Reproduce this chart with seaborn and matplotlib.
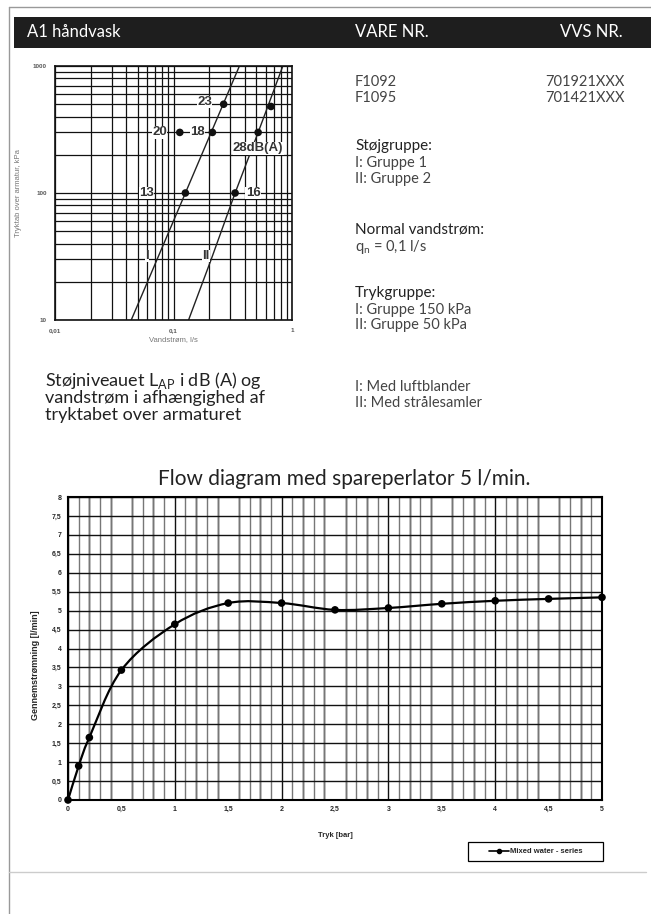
import numpy as np
import matplotlib
matplotlib.use("Agg")
import matplotlib.pyplot as plt
import seaborn as sns
from matplotlib.path import Path
from matplotlib.patches import PathPatch, Rectangle
from matplotlib.lines import Line2D
from matplotlib.ticker import FixedLocator, MultipleLocator, FuncFormatter, NullFormatter

# Top chart - pressure loss (kPa) against water flow (l/s) for group I and II
flow_I = [0.044, 0.126, 0.36]
kpa_I = [10, 100, 1000]
flow_II = [0.134, 0.208, 0.331, 0.518, 0.837]
kpa_II = [10, 30, 100, 300, 1000]

# Noise level points with dB(A) labels
dot_flow = [0.113, 0.126, 0.213, 0.265, 0.331, 0.518, 0.665]
dot_kpa = [300, 100, 300, 500, 100, 300, 480]
dot_labels = ["20", "13", "18", "23", "16", "28dB(A)", ""]

# Bottom chart - flow with spareperlator
pressure_bar = [0, 0.1, 0.2, 0.5, 1, 1.5, 2, 2.5, 3, 3.5, 4, 4.5, 5]
flow_lmin = [0, 0.9, 1.65, 3.43, 4.64, 5.2, 5.2, 5.02, 5.07, 5.18, 5.26, 5.31, 5.35]

sns.set_style("white")
plt.rcParams["font.family"] = ["Lato", "DejaVu Sans"]

W, H = 651, 914
fig = plt.figure(figsize=(W / 100, H / 100), dpi=100)


def fx(x):
    return x / W


def fy(y):
    return 1 - y / H


# page frame and header bar
fig.add_artist(Line2D([fx(9), fx(9)], [fy(7), 0], color="#999999", lw=1))
fig.add_artist(Line2D([fx(9), 1], [fy(7), fy(7)], color="#999999", lw=1))
fig.add_artist(Line2D([fx(9), fx(646)], [fy(872), fy(872)], color="#cccccc", lw=1))
fig.add_artist(Rectangle((fx(14), fy(48)), 1 - fx(14), (48 - 17) / H,
                         transform=fig.transFigure, color="#1e1e1e", lw=0))
fig.text(fx(27), fy(32), "A1 håndvask", color="white", fontsize=12, va="center")
fig.text(fx(355), fy(32), "VARE NR.", color="white", fontsize=12, va="center")
fig.text(fx(623), fy(32), "VVS NR.", color="white", fontsize=12, va="center", ha="right")

# right hand text block
dark = "#222222"
grey = "#444444"
fig.text(fx(355), fy(82), "F1092", color=grey, fontsize=10.5, va="center")
fig.text(fx(355), fy(98), "F1095", color=grey, fontsize=10.5, va="center")
fig.text(fx(625), fy(82), "701921XXX", color=grey, fontsize=10.5, va="center", ha="right")
fig.text(fx(625), fy(98), "701421XXX", color=grey, fontsize=10.5, va="center", ha="right")

blocks = [
    (146, "Støjgruppe:", ["I: Gruppe 1", "II: Gruppe 2"]),
    (230, "Normal vandstrøm:", ["q$_\\mathregular{n}$ = 0,1 l/s"]),
    (293, "Trykgruppe:", ["I: Gruppe 150 kPa", "II: Gruppe 50 kPa"]),
]
for y0, head, items in blocks:
    fig.text(fx(355), fy(y0), head, color=dark, fontsize=11, va="center")
    for i, item in enumerate(items):
        fig.text(fx(355), fy(y0 + 17 + 15.5 * i), item, color=grey, fontsize=10.5, va="center")
fig.text(fx(355), fy(387), "I: Med luftblander", color=grey, fontsize=10.5, va="center")
fig.text(fx(355), fy(403), "II: Med strålesamler", color=grey, fontsize=10.5, va="center")

# caption under the small chart
caption = ["Støjniveauet L$_\\mathregular{AP}$ i dB (A) og",
           "vandstrøm i afhængighed af",
           "tryktabet over armaturet"]
for i, line in enumerate(caption):
    fig.text(fx(45), fy(381 + 17 * i), line, color=dark, fontsize=13, va="center")

# ---------- top chart ----------
ax1 = fig.add_axes([fx(55), fy(320), (292 - 55) / W, (320 - 66) / H])
sns.lineplot(x=flow_I, y=kpa_I, ax=ax1, color="#222222", lw=1)
sns.lineplot(x=flow_II, y=kpa_II, ax=ax1, color="#222222", lw=1)
sns.scatterplot(x=dot_flow, y=dot_kpa, ax=ax1, color="#111111", s=30, edgecolor="none", zorder=5)
ax1.set_xscale("log")
ax1.set_yscale("log")
ax1.set_xlim(0.01, 1)
ax1.set_ylim(10, 1000)
ax1.xaxis.set_major_locator(FixedLocator([0.01, 0.1, 1]))
ax1.yaxis.set_major_locator(FixedLocator([10, 100, 1000]))
ax1.xaxis.set_minor_locator(FixedLocator([m * d for d in [0.01, 0.1] for m in range(2, 10)]))
ax1.yaxis.set_minor_locator(FixedLocator([m * d for d in [10, 100] for m in range(2, 10)]))
ax1.xaxis.set_minor_formatter(NullFormatter())
ax1.yaxis.set_minor_formatter(NullFormatter())
ax1.xaxis.set_major_formatter(FuncFormatter(lambda v, _: f"{v:g}".replace(".", ",")))
ax1.yaxis.set_major_formatter(FuncFormatter(lambda v, _: f"{v:g}"))
ax1.grid(which="both", color="#111111", lw=0.9)
ax1.tick_params(which="both", length=0, labelsize=4.5, labelcolor="#555555", pad=6)
for lab in ax1.get_xticklabels() + ax1.get_yticklabels():
    lab.set_fontweight("bold")
    lab.set_family("Liberation Sans")
for sp in ax1.spines.values():
    sp.set_color("#111111")
    sp.set_linewidth(1.2)
ax1.set_xlabel("Vandstrøm, l/s", fontsize=5.5, color="#777777", family="Liberation Sans", labelpad=2)
ax1.set_ylabel("Tryktab over armatur, kPa", fontsize=5.5, color="#777777", family="Liberation Sans", labelpad=8)

offsets = {"20": (-20, 0), "13": (-39, 0), "18": (-15, 0), "23": (-19, 2),
           "16": (18, 0), "28dB(A)": (0, -16), "": (0, 0)}
label_style = dict(ha="center", va="center", fontsize=9.5, fontweight="bold",
                   color="#333333", family="Liberation Sans",
                   bbox=dict(boxstyle="square,pad=0.02", fc="white", ec="none"))
for xv, yv, lab in zip(dot_flow, dot_kpa, dot_labels):
    if lab:
        dx, dy = offsets[lab]
        ax1.annotate(lab, (xv, yv), xytext=(dx * 0.72, dy * 0.72), textcoords="offset points",
                     **label_style)
ax1.text(0.06, 32, "I", **label_style)
ax1.text(0.187, 32, "II", **label_style)

# ---------- bottom chart ----------
fig.text(fx(344), fy(479), "Flow diagram med spareperlator 5 l/min.", color=dark,
         fontsize=15, ha="center", va="center")

ax2 = fig.add_axes([fx(68), fy(800), (602 - 68) / W, (800 - 497) / H])
ax2.set_xlim(0, 5)
ax2.set_ylim(0, 8)
ax2.xaxis.set_major_locator(MultipleLocator(0.5))
ax2.xaxis.set_minor_locator(MultipleLocator(0.1))
ax2.yaxis.set_major_locator(MultipleLocator(0.5))
ax2.grid(which="minor", axis="x", color="#777777", lw=1)
ax2.grid(which="major", axis="y", color="#111111", lw=1)
for xv in np.arange(0, 5.01, 0.2):
    ax2.axvline(xv, color="#111111", lw=1, zorder=0.5)
ax2.set_axisbelow(True)


def smooth_path(xs, ys):
    # Excel-like smoothed line: Catmull-Rom segments as cubic Bezier
    pts = np.column_stack([xs, ys]).astype(float)
    ext = np.vstack([pts[0], pts, pts[-1]])
    verts = [pts[0]]
    codes = [Path.MOVETO]
    for i in range(len(pts) - 1):
        p0, p1, p2, p3 = ext[i], ext[i + 1], ext[i + 2], ext[i + 3]
        verts += [p1 + (p2 - p0) / 6, p2 - (p3 - p1) / 6, p2]
        codes += [Path.CURVE4] * 3
    return Path(verts, codes)


ax2.add_patch(PathPatch(smooth_path(pressure_bar, flow_lmin), fc="none", ec="black", lw=1.6, zorder=4))
sns.scatterplot(x=pressure_bar, y=flow_lmin, ax=ax2, color="black", s=30, edgecolor="none",
                zorder=5, clip_on=False)

fmt = FuncFormatter(lambda v, _: f"{v:g}".replace(".", ","))
ax2.xaxis.set_major_formatter(fmt)
ax2.yaxis.set_major_formatter(fmt)
ax2.tick_params(which="major", length=2.5, width=0.8, labelsize=5, pad=2, color="black")
ax2.tick_params(which="minor", length=0)
ax2.tick_params(axis="x", which="major", length=0, pad=4)
for lab in ax2.get_xticklabels() + ax2.get_yticklabels():
    lab.set_fontweight("bold")
    lab.set_family("Liberation Sans")
for sp in ax2.spines.values():
    sp.set_color("black")
    sp.set_linewidth(1.5)
ax2.set_xlabel("Tryk [bar]", fontsize=5.5, fontweight="bold", family="Liberation Sans", labelpad=14)
fig.text(fx(35), fy(665), "Gennemstrømning [l/min]", rotation=90, ha="center", va="center",
         fontsize=6.5, fontweight="bold", family="Liberation Sans")

# legend box
fig.add_artist(Rectangle((fx(468), fy(861)), (603 - 468) / W, (861 - 842) / H,
                         transform=fig.transFigure, fc="white", ec="black", lw=0.9, zorder=-1))
handle = Line2D([], [], color="black", lw=1.2, marker="o", markersize=3)
leg = ax2.legend([handle], ["Mixed water - series"], loc="center",
                 bbox_to_anchor=(fx(535.5), fy(851.5)), bbox_transform=fig.transFigure,
                 frameon=False, handlelength=2.6, handletextpad=0.1,
                 prop={"family": "Liberation Sans", "weight": "bold", "size": 5.5})

fig.savefig("out.png", dpi=100)
